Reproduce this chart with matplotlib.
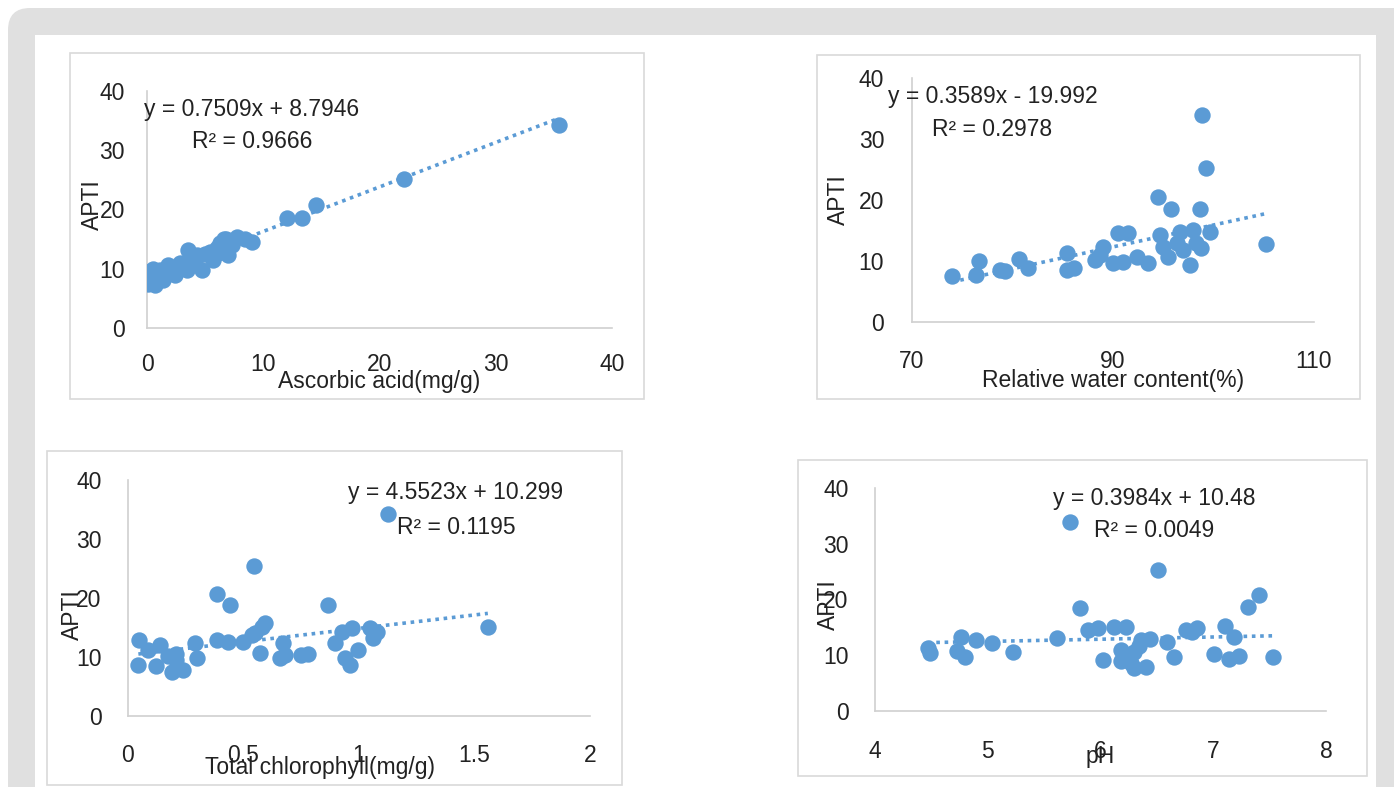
import matplotlib
matplotlib.use("Agg")
import numpy as np
import matplotlib.pyplot as plt
from matplotlib.patches import FancyBboxPatch, Rectangle

plt.rcParams['font.family'] = ['Liberation Sans', 'DejaVu Sans']

# --- данные ---
asc_x = [35.4, 22.1, 14.5, 13.3, 12.0, 0.1, 0.1, 0.7, 1.4, 1.1, 2.0, 2.8, 3.4, 3.5, 4.3,
         4.7, 5.4, 6.1, 6.3, 6.8, 7.7, 8.4, 9.0, 7.0, 5.7, 2.4, 4.1, 6.5, 0.2, 3.0, 1.5,
         5.0, 7.3, 6.0, 0.5, 1.8, 3.8, 6.6]
asc_y = [34.2, 25.2, 20.8, 18.6, 18.6, 9.5, 7.5, 7.3, 8.1, 9.8, 10.3, 10.9, 9.8, 13.2, 12.3,
         9.8, 12.9, 12.6, 14.3, 15.1, 15.4, 15.1, 14.6, 12.3, 11.5, 8.9, 11.0, 13.2, 8.6, 10.5, 9.0,
         12.5, 14.0, 13.5, 9.9, 10.6, 12.0, 15.0]

rwc_x = [74.0, 76.4, 76.7, 78.8, 79.3, 80.7, 81.5, 85.4, 85.4, 86.1, 88.2, 89.0, 88.7, 90.0,
         90.5, 91.5, 91.0, 92.4, 93.5, 94.7, 94.5, 95.8, 95.0, 95.5, 96.7, 97.0, 97.7, 98.0,
         98.7, 98.8, 99.7, 105.2, 96.4, 98.3, 98.9, 99.3]
rwc_y = [7.5, 7.7, 10.0, 8.6, 8.4, 10.3, 8.8, 11.3, 8.5, 8.8, 10.2, 12.3, 11.0, 9.6,
         14.6, 14.6, 9.9, 10.7, 9.6, 14.3, 20.5, 18.5, 12.3, 10.7, 14.8, 11.8, 9.3, 15.1,
         18.5, 12.1, 14.8, 12.8, 13.0, 13.0, 33.9, 25.2]

chl_x = [0.048, 0.045, 0.088, 0.12, 0.139, 0.175, 0.19, 0.21, 0.24, 0.21, 0.29, 0.297, 0.384,
         0.44, 0.384, 0.434, 0.50, 0.535, 0.58, 0.593, 0.57, 0.55, 0.67, 0.68, 0.66, 0.75, 0.78,
         0.867, 0.896, 0.925, 0.968, 0.94, 0.96, 0.997, 1.048, 1.077, 1.06, 1.126, 0.545, 1.558]
chl_y = [12.8, 8.6, 11.2, 8.4, 12.0, 10.1, 7.5, 9.5, 7.8, 10.5, 12.3, 9.9, 20.7,
         18.8, 12.9, 12.6, 12.6, 13.7, 15.1, 15.7, 10.6, 14.0, 12.3, 10.3, 9.9, 10.3, 10.5,
         18.8, 12.3, 14.3, 14.9, 9.8, 8.6, 11.2, 15.0, 14.3, 13.2, 34.2, 25.4, 15.1]

ph_x = [4.47, 4.49, 4.76, 4.73, 4.80, 4.90, 5.04, 5.22, 5.61, 5.82, 5.89, 5.98, 6.12, 6.23,
        6.02, 6.18, 6.18, 6.27, 6.30, 6.40, 6.36, 6.44, 6.30, 6.27, 6.34, 6.59, 6.65, 6.76,
        6.86, 6.81, 7.01, 7.10, 7.18, 7.14, 7.23, 7.31, 7.41, 7.53, 6.51, 5.73]
ph_y = [11.3, 10.4, 13.3, 10.8, 9.7, 12.7, 12.2, 10.5, 13.1, 18.4, 14.5, 14.8, 15.1, 15.1,
        9.2, 11.0, 8.9, 8.6, 7.7, 7.8, 12.7, 12.9, 10.6, 10.2, 11.7, 12.3, 9.7, 14.5,
        14.8, 14.1, 10.2, 15.3, 13.2, 9.3, 9.9, 18.7, 20.8, 9.7, 25.3, 33.9]

# коэффициенты линий тренда
slopes = [0.7509, 0.3589, 4.5523, 0.3984]
intercepts = [8.7946, -19.992, 10.299, 10.48]
eq_texts = ["y = 0.7509x + 8.7946", "y = 0.3589x - 19.992",
            "y = 4.5523x + 10.299", "y = 0.3984x + 10.48"]
r2_texts = ["R² = 0.9666", "R² = 0.2978", "R² = 0.1195", "R² = 0.0049"]
x_labels = ["Ascorbic acid(mg/g)", "Relative water content(%)",
            "Total chlorophyll(mg/g)", "pH"]
x_ticks = [[0, 10, 20, 30, 40], [70, 90, 110], [0, 0.5, 1, 1.5, 2], [4, 5, 6, 7, 8]]
x_tick_labels = [["0", "10", "20", "30", "40"], ["70", "90", "110"],
                 ["0", "0.5", "1", "1.5", "2"], ["4", "5", "6", "7", "8"]]
y_ticks = [0, 10, 20, 30, 40]

BLUE = '#5b9bd5'
W, H = 1394, 787

fig = plt.figure(figsize=(W / 100, H / 100), dpi=100, facecolor='white')

# фон: серая рамка и белая подложка
bg = fig.add_axes([0, 0, 1, 1], zorder=-10)
bg.set_xlim(0, W)
bg.set_ylim(H, 0)
bg.axis('off')
bg.add_patch(FancyBboxPatch((8, 8), W + 40, H + 40, boxstyle="round,pad=0,rounding_size=22",
                            fc='#e0e0e0', ec='none'))
bg.add_patch(Rectangle((35, 35), 1376 - 35, H, fc='white', ec='none'))
frames = [(70, 53, 644, 399), (817, 55, 1360, 399), (47, 451, 622, 785), (798, 460, 1367, 776)]
for x0, y0, x1, y1 in frames:
    bg.add_patch(Rectangle((x0, y0), x1 - x0, y1 - y0, fc='white', ec='#d9d9d9', lw=1.2))

# положение осей (доли фигуры)
positions = [[0.1055, 0.5832, 0.3336, 0.3012],
             [0.6542, 0.5909, 0.2884, 0.3100],
             [0.0918, 0.0902, 0.3314, 0.2999],
             [0.6277, 0.0966, 0.3235, 0.2834]]
xdata = [asc_x, rwc_x, chl_x, ph_x]
ydata = [asc_y, rwc_y, chl_y, ph_y]
eq_pos = [(9.0, 36.9, 31.4), (78.0, 37.0, 31.6), (1.42, 37.8, 32.0), (6.48, 38.1, 32.3)]
ylab_pos = [(-0.118, 0.52), (-0.184, 0.50), (-0.121, 0.43), (-0.104, 0.475)]
xlab_pos = [(0.50, -0.224), (0.50, -0.238), (0.416, -0.22), (0.499, -0.206)]
ypads = [16, 20, 19, 19]
xpads = [18, 20, 20, 21]

FS = 16.5
for i in range(4):
    ax = fig.add_axes(positions[i])
    ax.set_facecolor('none')
    xs = np.array(xdata[i])
    ys = np.array(ydata[i])
    # линия тренда
    lx = np.array([xs.min(), xs.max()])
    ax.plot(lx, slopes[i] * lx + intercepts[i], color=BLUE, lw=2.6,
            linestyle=(0, (1, 1.3)), zorder=2)
    ax.plot(xs, ys, 'o', color=BLUE, markersize=11.8, markeredgewidth=0, zorder=3)

    ax.set_xlim(x_ticks[i][0], x_ticks[i][-1])
    ax.set_ylim(0, 40)
    ax.set_xticks(x_ticks[i])
    ax.set_xticklabels(x_tick_labels[i])
    ax.set_yticks(y_ticks)
    ax.tick_params(length=0, labelsize=FS, colors='#222222')
    ax.tick_params(axis='y', pad=ypads[i])
    ax.tick_params(axis='x', pad=xpads[i])
    for s in ['top', 'right']:
        ax.spines[s].set_visible(False)
    for s in ['left', 'bottom']:
        ax.spines[s].set_color('#d0d0d0')
        ax.spines[s].set_linewidth(1.2)

    ex, ey, ry = eq_pos[i]
    ax.text(ex, ey, eq_texts[i], ha='center', va='center', fontsize=FS, color='#222222',
            clip_on=False, zorder=4)
    ax.text(ex, ry, r2_texts[i], ha='center', va='center', fontsize=FS, color='#222222',
            clip_on=False, zorder=4)
    ax.text(ylab_pos[i][0], ylab_pos[i][1], "APTI", rotation=90, ha='center', va='center',
            fontsize=FS, color='#222222', transform=ax.transAxes)
    ax.text(xlab_pos[i][0], xlab_pos[i][1], x_labels[i], ha='center', va='center',
            fontsize=FS, color='#222222', transform=ax.transAxes)

fig.savefig('out.png', dpi=100, facecolor='white')
